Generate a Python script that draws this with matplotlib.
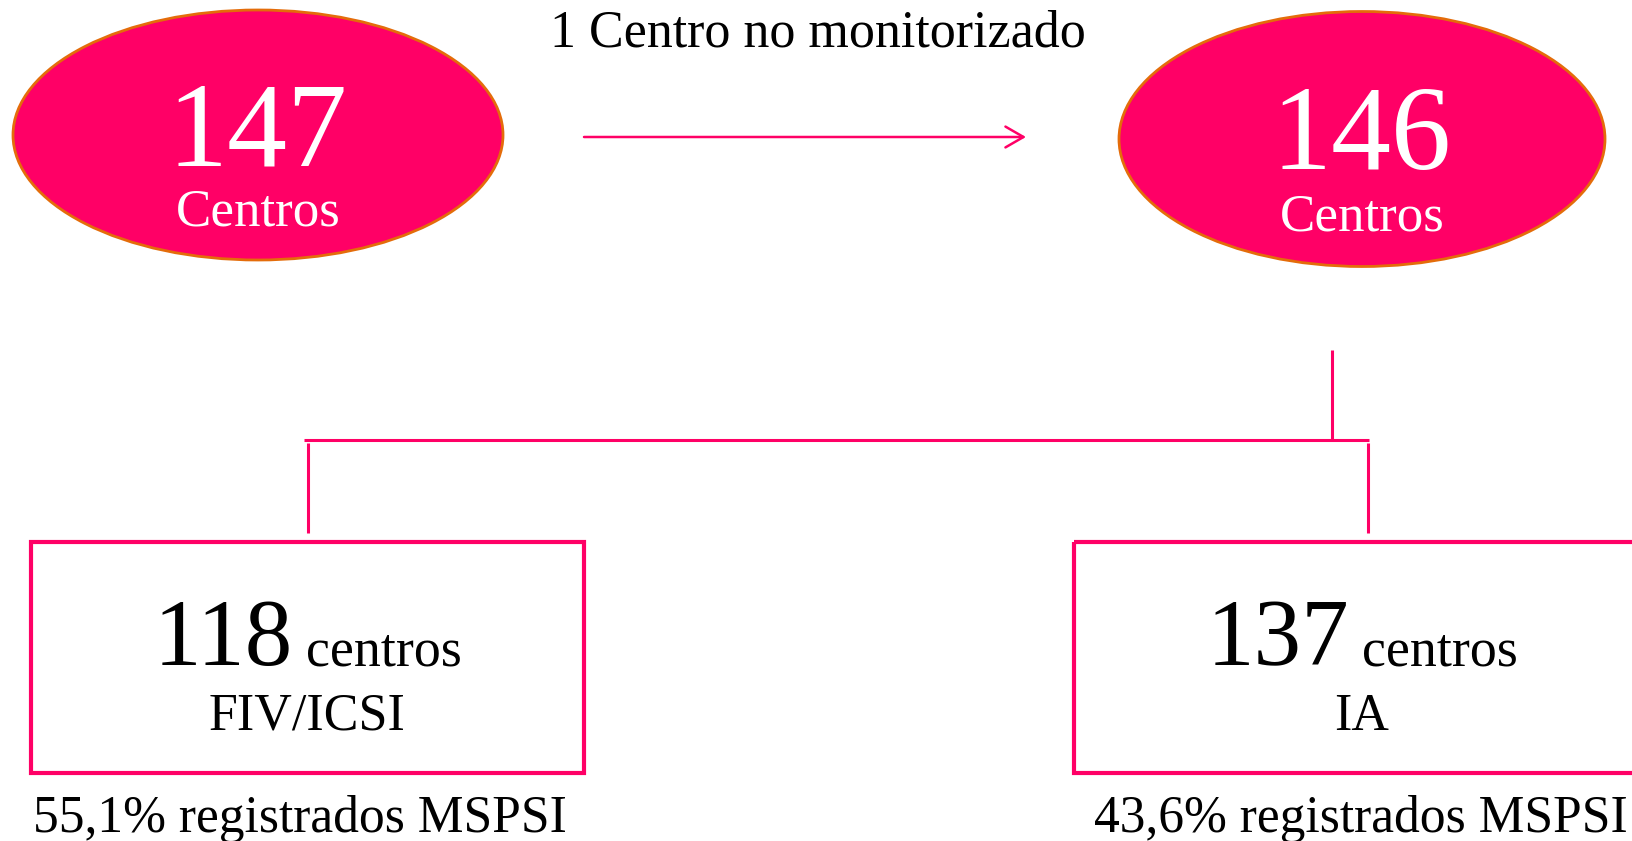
import matplotlib
matplotlib.use("Agg")
import matplotlib.pyplot as plt
from matplotlib.patches import Ellipse, Rectangle, FancyArrowPatch

# valores del diagrama
node_values = [147, 146]
node_labels = ["Centros", "Centros"]
transition_label = "1 Centro no monitorizado"
box_values = [118, 137]
box_units = ["centros", "centros"]
box_types = ["FIV/ICSI", "IA"]
box_pcts = [55.1, 43.6]
pct_suffix = "% registrados MSPSI"

PINK = "#FF0066"
EDGE = "#E46C0A"
FONT = "Liberation Serif"
W, H = 1633, 841

def pt(px):
    # pixeles a puntos con dpi=100
    return px * 0.72

fig = plt.figure(figsize=(W / 100, H / 100), dpi=100)
ax = fig.add_axes([0, 0, 1, 1])
ax.set_xlim(0, W)
ax.set_ylim(H, 0)
ax.axis("off")

# elipses superiores
ellipses = [(258, 135, 490, 250, 165, 225), (1362, 139, 486, 255, 169, 230)]
for (cx, cy, ew, eh, yn, yl), val, lab in zip(ellipses, node_values, node_labels):
    ax.add_patch(Ellipse((cx, cy), ew, eh, facecolor=PINK, edgecolor=EDGE, lw=2.0))
    ax.text(cx, yn, str(val), ha="center", va="baseline", color="white",
            family=FONT, fontsize=pt(120))
    ax.text(cx, yl, lab, ha="center", va="baseline", color="white",
            family=FONT, fontsize=pt(53))

# flecha y texto de transicion
ax.add_patch(FancyArrowPatch((584, 137), (1026, 137),
                             arrowstyle="->,head_length=1.3,head_width=0.75",
                             mutation_scale=10, color=PINK, lw=1.8,
                             shrinkA=0, shrinkB=0))
ax.text(818, 46, transition_label, ha="center", va="baseline",
        family=FONT, fontsize=pt(52))

# conectores
lw_c = 2.2
ax.plot([1332, 1332], [350, 440], color=PINK, lw=lw_c, solid_capstyle="butt")
ax.plot([304, 1369], [440, 440], color=PINK, lw=lw_c, solid_capstyle="butt")
ax.plot([308, 308], [443, 533], color=PINK, lw=lw_c, solid_capstyle="butt")
ax.plot([1368, 1368], [443, 533], color=PINK, lw=lw_c, solid_capstyle="butt")

# cajas inferiores (x del texto de porcentaje aparte)
boxes = [(31, 542, 553, 231), (1074, 542, 576, 231)]
pct_x = [300, 1361]
fig.canvas.draw()
renderer = fig.canvas.get_renderer()
for (bx, by, bw, bh), px, val, unit, typ, pct in zip(boxes, pct_x, box_values,
                                                      box_units, box_types, box_pcts):
    ax.add_patch(Rectangle((bx, by), bw, bh, fill=False, edgecolor=PINK, lw=3.0))
    cx = bx + bw / 2
    t_num = ax.text(0, 665, str(val), ha="left", va="baseline",
                    family=FONT, fontsize=pt(95))
    t_unit = ax.text(0, 665, unit, ha="left", va="baseline",
                     family=FONT, fontsize=pt(54))
    wn = t_num.get_window_extent(renderer).width
    wu = t_unit.get_window_extent(renderer).width
    gap = 13
    x0 = cx - (wn + gap + wu) / 2
    t_num.set_x(x0)
    t_unit.set_x(x0 + wn + gap)
    ax.text(cx, 730, typ, ha="center", va="baseline", family=FONT, fontsize=pt(52))
    ax.text(px, 832, f"{pct:.1f}".replace(".", ",") + pct_suffix,
            ha="center", va="baseline", family=FONT, fontsize=pt(51.5))

fig.savefig("out.png", dpi=100, facecolor="white")
